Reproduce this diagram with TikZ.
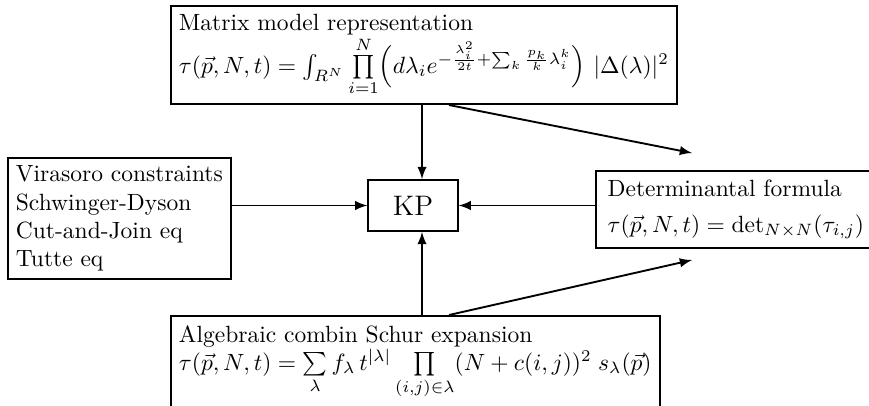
\documentclass[tikz,border=0pt]{standalone}
\usepackage{amsmath}
\usepackage{amssymb}
\usetikzlibrary{arrows}
\tikzset{
  box/.style={draw, line width=0.8pt, align=left, inner sep=3.4pt},
  arr/.style={-latex, line width=0.8pt}
}

\begin{document}
\begin{tikzpicture}[x=0.4255pt,y=0.4255pt,yscale=-1,xscale=1]
\useasboundingbox (0,0) rectangle (869,405);

% Text Node
\node [box, anchor=north west] (mm) at (170,5) {Matrix model representation\\
  $\tau(\vec p,N,t)=\int_{R^N}\prod\limits_{i=1}^{N}\Bigl(d\lambda_i e^{-\frac{\lambda_i^2}{2t}+\sum_k\frac{p_k}{k}\lambda_i^k}\Bigr)\ |\Delta(\lambda)|^2$};
% Text Node
\node [box, font=\large, minimum width=38pt, minimum height=21.7pt] (kp) at (413,205.5) {KP};
% Text Node
\node [box, anchor=north west] (vir) at (7,157) {Virasoro constraints\\ Schwinger-Dyson\\ Cut-and-Join eq\\ Tutte eq};
% Text Node
\node [box, anchor=north west, inner xsep=5pt, inner ysep=4pt, text width=125pt] (det) at (595,170) {Determinantal formula\\[3pt]
  $\tau(\vec p,N,t)=\det_{N\times N}(\tau_{i,j})$};
% Text Node
\node [box, anchor=north west, inner ysep=4pt, text depth=13pt] (schur) at (170,315) {Algebraic combin Schur expansion\\
  $\tau(\vec p,N,t)=\sum\limits_\lambda f_\lambda\, t^{|\lambda|}\prod\limits_{(i,j)\in\lambda}(N+c(i,j))^2\;s_\lambda(\vec p)$};

\coordinate (kin) at (422,205.5);
\coordinate (split) at (449,0);
\coordinate (dtop) at (692,153);
\coordinate (dbot) at (692,260);

%Arrows
\draw [arr] (mm.south -| kin) -- (kp.north -| kin);
\draw [arr] (schur.north -| kin) -- (kp.south -| kin);
\draw [arr] (vir.east |- kp) -- (kp);
\draw [arr] (det.west |- kp) -- (kp);
\draw [arr] (mm.south -| split) -- (dtop);
\draw [arr] (schur.north -| split) -- (dbot);

\end{tikzpicture}
\end{document}
